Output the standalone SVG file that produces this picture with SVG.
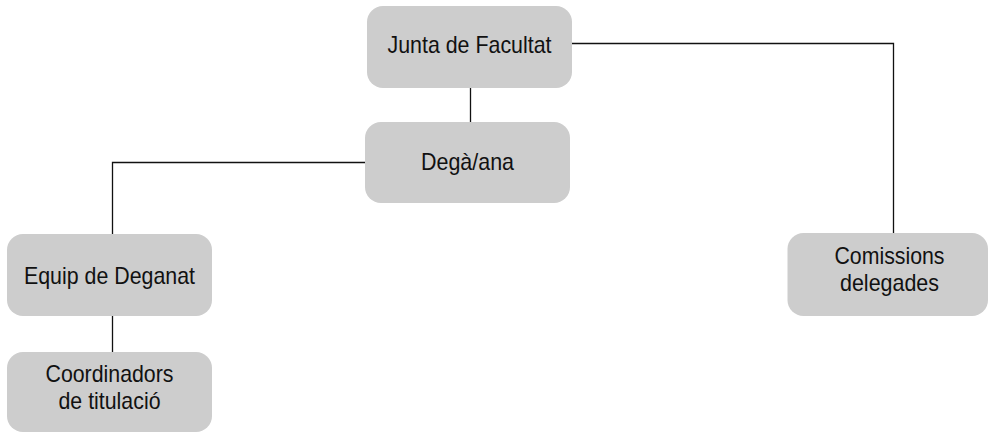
<svg xmlns="http://www.w3.org/2000/svg" width="988" height="433" viewBox="0 0 988 433">
<style>
.node rect{fill:#cdcdcd;stroke:none}
.node text{font-family:"Liberation Sans",Arial,sans-serif;font-size:24px;fill:#111;text-anchor:middle}
#connectors path{fill:none;stroke:#111;stroke-width:1.3}
</style>
<rect width="988" height="433" fill="#fff"/>
<g id="connectors">
<path d="M470.5 88V122"/>
<path d="M365 162.5H112.5V234"/>
<path d="M112.5 316V352"/>
<path d="M572 43.5H893.5V233"/>
</g>
<g id="junta" class="node"><rect x="367" y="6" width="205" height="82" rx="16"/><text x="469.5" y="53" textLength="164" lengthAdjust="spacingAndGlyphs">Junta de Facultat</text></g>
<g id="degana" class="node"><rect x="365" y="122" width="205" height="81" rx="16"/><text x="467.5" y="170" textLength="93" lengthAdjust="spacingAndGlyphs">Degà/ana</text></g>
<g id="equip" class="node"><rect x="7" y="234" width="205" height="82" rx="16"/><text x="109.5" y="284" textLength="171" lengthAdjust="spacingAndGlyphs">Equip de Deganat</text></g>
<g id="coord" class="node"><rect x="7" y="352" width="205" height="80" rx="16"/><text x="109.5" y="382" textLength="128" lengthAdjust="spacingAndGlyphs">Coordinadors</text><text x="109.5" y="409" textLength="102" lengthAdjust="spacingAndGlyphs">de titulació</text></g>
<g id="comissions" class="node"><rect x="787.5" y="233" width="200.5" height="83" rx="16"/><text x="889.5" y="264" textLength="110" lengthAdjust="spacingAndGlyphs">Comissions</text><text x="889.5" y="291" textLength="99" lengthAdjust="spacingAndGlyphs">delegades</text></g>
</svg>
